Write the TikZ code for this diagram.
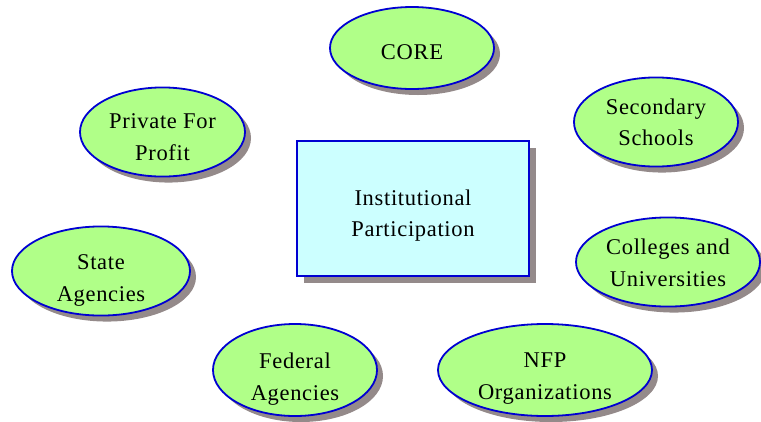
\documentclass[tikz,border=0pt]{standalone}
\usepackage{fontspec}
\setmainfont{Liberation Serif}[LetterSpace=3]
\usetikzlibrary{shapes.geometric,shadows}
\definecolor{ovalfill}{RGB}{176,255,136}
\definecolor{boxfill}{RGB}{204,255,255}
\definecolor{edgeblue}{RGB}{0,0,210}
\definecolor{shadegray}{RGB}{148,138,138}
\newcommand\droptext[2]{\raisebox{-#1pt}[\height][\depth]{\begin{tabular}{@{}c@{}}#2\end{tabular}}}
\tikzset{
  oval/.style={ellipse, draw=edgeblue, line width=1.8pt, fill=ovalfill, inner sep=0pt,
    font=\fontsize{22.5}{31.5}\selectfont,
    drop shadow={shadow xshift=6pt, shadow yshift=-6pt, fill=shadegray, opacity=1}},
  centerbox/.style={rectangle, draw=edgeblue, line width=1.8pt, fill=boxfill, inner sep=0pt,
    font=\fontsize{22.5}{31.5}\selectfont,
    drop shadow={shadow xshift=7pt, shadow yshift=-7pt, fill=shadegray, opacity=1}}
}
\begin{document}
\begin{tikzpicture}[x=1pt,y=-1pt]
\useasboundingbox (0,0) rectangle (761,421);
\node[centerbox, minimum width=232pt, minimum height=135pt] (center) at (413,208.5) {\droptext{6}{Institutional\\Participation}};
\node[oval, minimum width=164pt, minimum height=82pt] (core) at (412,48) {\droptext{5}{CORE}};
\node[oval, minimum width=165pt, minimum height=88pt] (private) at (162.5,132) {\droptext{6}{Private For\\Profit}};
\node[oval, minimum width=164pt, minimum height=84pt] (secondary) at (656,122) {\droptext{1.5}{Secondary\\Schools}};
\node[oval, minimum width=178pt, minimum height=88pt] (state) at (101,271) {\droptext{8}{State\\Agencies}};
\node[oval, minimum width=184pt, minimum height=82pt] (colleges) at (668,262) {\droptext{2}{Colleges and\\Universities}};
\node[oval, minimum width=164pt, minimum height=92pt] (federal) at (295,370) {\droptext{8}{Federal\\Agencies}};
\node[oval, minimum width=214pt, minimum height=92pt] (nfp) at (545,370) {\droptext{7}{NFP\\Organizations}};
\end{tikzpicture}
\end{document}
